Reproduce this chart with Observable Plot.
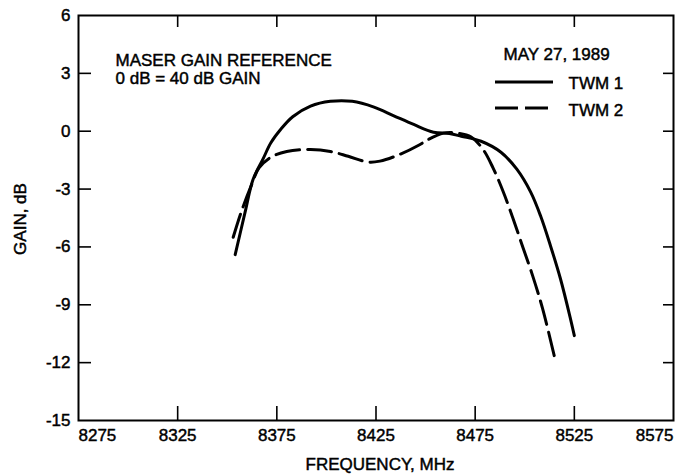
<!DOCTYPE html>
<html>
<head>
<meta charset="utf-8">
<script src="https://cdn.jsdelivr.net/npm/d3@7"></script>
<script src="https://cdn.jsdelivr.net/npm/@observablehq/plot@0.6"></script>
<style>
  html, body { margin: 0; padding: 0; background: white; }
  #chart { width: 679px; height: 475px; }
  #chart svg text { stroke: black; stroke-width: 0.45px; }
</style>
</head>
<body>
<div id="chart"></div>
<script>
// Data
const freqTWM1 = [8354, 8359, 8363, 8368, 8372, 8377, 8383, 8392, 8402, 8413, 8424, 8434, 8444, 8454, 8462, 8468, 8478, 8488, 8496, 8503, 8508, 8513, 8518, 8523, 8525];
const gainTWM1 = [-6.4, -4.2, -2.5, -1.45, -0.6, 0.1, 0.75, 1.3, 1.55, 1.55, 1.25, 0.8, 0.35, -0.05, -0.12, -0.26, -0.52, -1.09, -1.97, -3.16, -4.4, -5.95, -7.65, -9.7, -10.6];
const freqTWM2 = [8353, 8357, 8362, 8366, 8372, 8380, 8392, 8402, 8411, 8421, 8427, 8437, 8447, 8451, 8459, 8466, 8473, 8479, 8484, 8489, 8494, 8499, 8504, 8509, 8515];
const gainTWM2 = [-5.5, -4.2, -2.85, -1.9, -1.35, -1.05, -0.95, -1.05, -1.3, -1.6, -1.55, -1.2, -0.7, -0.45, -0.1, -0.1, -0.3, -0.95, -1.9, -3.1, -4.5, -6.0, -7.5, -9.2, -11.7];
const xTicks = [8275, 8325, 8375, 8425, 8475, 8525, 8575];
const yTicks = [6, 3, 0, -3, -6, -9, -12, -15];
const seriesNames = ["TWM 1", "TWM 2"];
const annotation = ["MASER GAIN REFERENCE", "0 dB = 40 dB GAIN"];
const dateLabel = "MAY 27, 1989";
const xLabel = "FREQUENCY, MHz";
const yLabel = "GAIN, dB";

const twm1 = freqTWM1.map((f, i) => ({f, g: gainTWM1[i]}));
const twm2 = freqTWM2.map((f, i) => ({f, g: gainTWM2[i]}));

const W = 679, H = 475, mL = 78, mR = 6, mT = 15, mB = 55;
const pw = W - mL - mR, ph = H - mT - mB;
const font = "'Liberation Sans', Arial, Helvetica, sans-serif";
const innerX = xTicks.slice(1, -1), innerY = yTicks.slice(1, -1);

const chart = Plot.plot({
  width: W, height: H,
  marginLeft: mL, marginRight: mR, marginTop: mT, marginBottom: mB,
  x: {domain: [8275, 8575]},
  y: {domain: [-15, 6]},
  style: {fontFamily: font, fontSize: "17px", color: "black", background: "white", overflow: "visible"},
  marks: [
    Plot.frame({stroke: "black", strokeWidth: 2}),
    Plot.tickY(innerY, {y: d => d, insetRight: pw - 13, strokeWidth: 1.6}),
    Plot.tickY(innerY, {y: d => d, insetLeft: pw - 10, strokeWidth: 1.6}),
    Plot.tickX(innerX, {x: d => d, insetBottom: ph - 12, strokeWidth: 1.6}),
    Plot.tickX(innerX, {x: d => d, insetTop: ph - 14, strokeWidth: 1.6}),
    Plot.axisY(yTicks, {tickSize: 0, tickPadding: 8, tickFormat: d => String(d), label: null, fontSize: 17}),
    Plot.axisX(innerX, {tickSize: 0, tickPadding: 8, tickFormat: d => String(d), label: null, fontSize: 17}),
    Plot.text([xTicks[0]], {x: d => d, text: d => String(d), frameAnchor: "bottom", textAnchor: "start", lineAnchor: "top", dy: 8, fontSize: 17}),
    Plot.text([xTicks[xTicks.length - 1]], {x: d => d, text: d => String(d), frameAnchor: "bottom", textAnchor: "end", lineAnchor: "top", dy: 8, fontSize: 17}),
    Plot.text([xLabel], {frameAnchor: "bottom", textAnchor: "middle", dx: 4, dy: 37, lineAnchor: "top", fontSize: 17}),
    Plot.text([yLabel], {frameAnchor: "left", textAnchor: "middle", dx: -58, dy: 1, rotate: -90, fontSize: 17}),
    Plot.text([annotation.join("\n")], {frameAnchor: "top-left", dx: 37, dy: 38, textAnchor: "start", lineAnchor: "top", lineHeight: 1.06, fontSize: 17}),
    Plot.text([dateLabel], {frameAnchor: "top-left", dx: 425, dy: 32, textAnchor: "start", lineAnchor: "top", fontSize: 17}),
    Plot.text([seriesNames[0]], {frameAnchor: "top-left", dx: 490, dy: 61, textAnchor: "start", lineAnchor: "top", fontSize: 17}),
    Plot.text([seriesNames[1]], {frameAnchor: "top-left", dx: 490, dy: 88, textAnchor: "start", lineAnchor: "top", fontSize: 17}),
    Plot.line(twm1, {x: "f", y: "g", curve: "catmull-rom", stroke: "black", strokeWidth: 3}),
    Plot.line(twm2, {x: "f", y: "g", curve: "catmull-rom", stroke: "black", strokeWidth: 3, strokeDasharray: "24,8"})
  ]
});

// legend swatches
const svg = d3.select(chart);
svg.append("line").attr("x1", 495).attr("x2", 553).attr("y1", 82).attr("y2", 82)
  .attr("stroke", "black").attr("stroke-width", 3);
svg.append("line").attr("x1", 495).attr("x2", 553).attr("y1", 108).attr("y2", 108)
  .attr("stroke", "black").attr("stroke-width", 3).attr("stroke-dasharray", "23,7");

document.getElementById("chart").appendChild(chart);
</script>
</body>
</html>
